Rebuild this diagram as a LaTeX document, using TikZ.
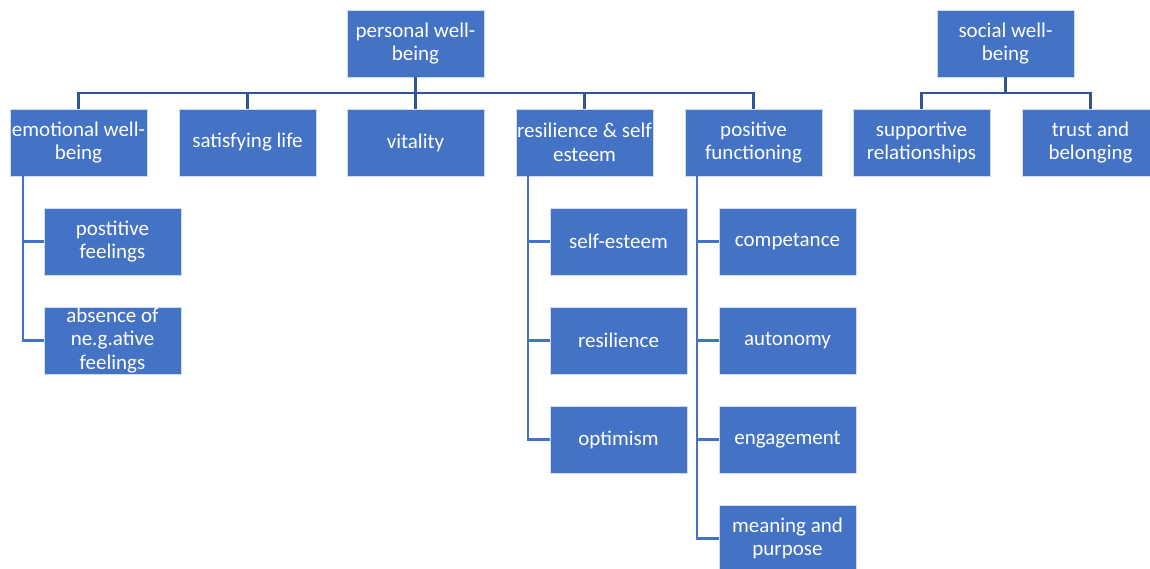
\documentclass[tikz,border=0pt]{standalone}
\usepackage{fontspec}
\setmainfont{Carlito}
\definecolor{boxblue}{HTML}{4472C4}
\definecolor{linkblue}{HTML}{2F5597}

\tikzset{
  wbox/.style={rectangle, fill=boxblue, draw=white!75!boxblue, line width=0.6pt,
    minimum width=137pt, minimum height=67pt, inner sep=0pt, align=center,
    text=white, font=\fontsize{21}{23.5}\selectfont},
  bus/.style={draw=linkblue, line width=2.4pt},
  leg/.style={draw=boxblue, line width=2.4pt},
}

\begin{document}
\begin{tikzpicture}[x=1pt, y=-1pt]
    \useasboundingbox (0,0) rectangle (1150,568);
    % top level
    \node[wbox] (pw) at (415.5,43.5) {personal well-\\being};
    \node[wbox] (sw) at (1005.5,43.5) {social well-\\being};
    % second level
    \node[wbox] (ew) at (78.5,142.5) {emotional well-\\being};
    \node[wbox] (sl) at (247.5,142.5) {satisfying life};
    \node[wbox] (vi) at (415.5,142.5) {vitality};
    \node[wbox] (rs) at (584.5,142.5) {resilience \& self\\esteem};
    \node[wbox] (pf) at (753.5,142.5) {positive\\functioning};
    \node[wbox] (sr) at (921.5,142.5) {supportive\\relationships};
    \node[wbox] (tb) at (1090.5,142.5) {trust and\\belonging};
    % third level
    \node[wbox] (pfe) at (112.5,241.5) {postitive\\feelings};
    \node[wbox] (anf) at (112.5,340.5) {absence of\\ne.g.ative\\feelings};
    \node[wbox] (se) at (618.5,241.5) {self-esteem};
    \node[wbox] (re) at (618.5,340.5) {resilience};
    \node[wbox] (op) at (618.5,439.5) {optimism};
    \node[wbox] (co) at (787.5,241.5) {competance};
    \node[wbox] (au) at (787.5,340.5) {autonomy};
    \node[wbox] (en) at (787.5,439.5) {engagement};
    \node[wbox] (mp) at (787.5,538.5) {meaning and\\purpose};
    % buses
    \coordinate (pbus) at (0,93);
    \draw[bus] (pw.south) -- (pw.south |- pbus);
    \draw[bus] (ew.north) |- (pw.south |- pbus) -| (pf.north);
    \draw[bus] (sl.north) -- (sl.north |- pbus);
    \draw[bus] (vi.north) -- (vi.north |- pbus);
    \draw[bus] (rs.north) -- (rs.north |- pbus);
    \draw[bus] (sw.south) -- (sw.south |- pbus);
    \draw[bus] (sr.north) |- (sw.south |- pbus) -| (tb.north);
    % legs
    \coordinate (ewl) at ([xshift=13pt]ew.south west);
    \coordinate (rsl) at ([xshift=12pt]rs.south west);
    \coordinate (pfl) at ([xshift=12pt]pf.south west);
    \draw[leg] (ewl) |- (pfe.west);
    \draw[leg] (ewl) |- (anf.west);
    \foreach \c in {se,re,op} \draw[leg] (rsl) |- (\c.west);
    \foreach \c in {co,au,en,mp} \draw[leg] (pfl) |- (\c.west);
\end{tikzpicture}
\end{document}
